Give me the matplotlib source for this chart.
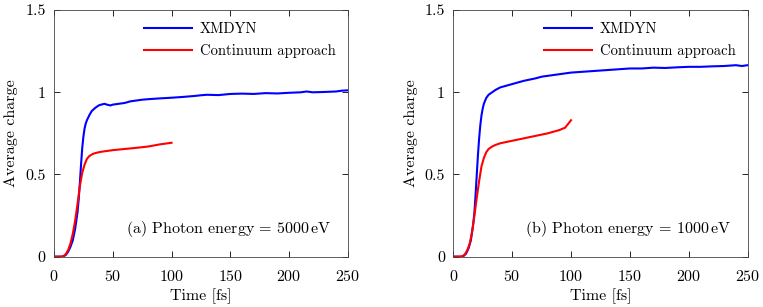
import matplotlib.pyplot as plt

plt.rcParams['font.family'] = 'cmr10'
plt.rcParams['mathtext.fontset'] = 'cm'
plt.rcParams['axes.formatter.use_mathtext'] = True

# Panel (a): 5000 eV
t_xmdyn_a = [0, 6, 8, 10, 12, 14, 16, 18, 20, 21, 22, 23, 24, 25, 26, 27, 28, 30, 32, 35, 38, 40, 43,
             45, 48, 50, 55, 60, 65, 70, 75, 80, 90, 100, 110, 120, 125, 130, 140, 150, 160,
             170, 180, 190, 200, 210, 215, 220, 230, 240, 245, 250]
q_xmdyn_a = [0, 0, 0.002, 0.01, 0.03, 0.06, 0.1, 0.17, 0.27, 0.35, 0.45, 0.56, 0.66, 0.73, 0.78, 0.81,
             0.83, 0.86, 0.885, 0.905, 0.92, 0.925, 0.93, 0.925, 0.92, 0.925, 0.93, 0.935, 0.945, 0.95,
             0.955, 0.958, 0.963, 0.967, 0.972, 0.978, 0.982, 0.985, 0.983, 0.99, 0.992, 0.99, 0.995,
             0.993, 0.997, 1.0, 1.005, 1.0, 1.002, 1.005, 1.01, 1.012]
t_cont_a = [0, 6, 8, 10, 12, 14, 16, 18, 20, 22, 24, 26, 28, 30, 33, 36, 40, 50, 60, 70, 80, 90, 100]
q_cont_a = [0, 0, 0.003, 0.015, 0.04, 0.08, 0.14, 0.22, 0.32, 0.43, 0.51, 0.56, 0.595, 0.612, 0.625,
            0.632, 0.638, 0.648, 0.655, 0.662, 0.67, 0.683, 0.693]

# Panel (b): 1000 eV
t_xmdyn_b = [0, 7, 9, 11, 13, 15, 17, 18, 19, 20, 21, 22, 23, 24, 25, 26, 28, 30, 33, 36, 40, 45,
             50, 55, 60, 70, 75, 80, 90, 100, 110, 120, 130, 140, 150, 160, 170, 180, 190, 200,
             210, 220, 230, 240, 245, 250]
q_xmdyn_b = [0, 0, 0.005, 0.02, 0.05, 0.1, 0.2, 0.27, 0.38, 0.5, 0.62, 0.72, 0.8, 0.86, 0.9, 0.93,
             0.965, 0.985, 1.0, 1.015, 1.03, 1.04, 1.05, 1.06, 1.07, 1.085, 1.095, 1.1, 1.11, 1.12, 1.125,
             1.13, 1.135, 1.14, 1.145, 1.145, 1.15, 1.148, 1.152, 1.155, 1.155, 1.158, 1.16, 1.165,
             1.16, 1.165]
t_cont_b = [0, 6, 8, 10, 12, 14, 16, 18, 20, 22, 24, 26, 28, 30, 33, 36, 40, 50, 60, 70, 80, 90, 95, 100]
q_cont_b = [0, 0, 0.003, 0.015, 0.04, 0.08, 0.15, 0.25, 0.36, 0.46, 0.55, 0.6, 0.635, 0.655, 0.67,
            0.68, 0.69, 0.705, 0.72, 0.735, 0.75, 0.77, 0.785, 0.83]

labels = ['XMDYN', 'Continuum approach']
panel_text = [r'(a) Photon energy = 5000$\,$eV', r'(b) Photon energy = 1000$\,$eV']
x_ticks = [0, 50, 100, 150, 200, 250]
y_ticks = [0, 0.5, 1, 1.5]
y_ticklabels = ['0', '0.5', '1', '1.5']

fig = plt.figure(figsize=(7.63, 3.07), dpi=100)
ax1 = fig.add_axes([0.0708, 0.164, 0.385, 0.803])
ax2 = fig.add_axes([0.594, 0.164, 0.386, 0.803])

panels = [(ax1, t_xmdyn_a, q_xmdyn_a, t_cont_a, q_cont_a, panel_text[0]),
          (ax2, t_xmdyn_b, q_xmdyn_b, t_cont_b, q_cont_b, panel_text[1])]

for ax, tx, qx, tc, qc, txt in panels:
    ax.plot(tx, qx, color='#0000ff', lw=1.5, label=labels[0])
    ax.plot(tc, qc, color='#ff0000', lw=1.5, label=labels[1])
    ax.set_xlim(0, 250)
    ax.set_ylim(0, 1.5)
    ax.set_xticks(x_ticks)
    ax.set_yticks(y_ticks)
    ax.set_yticklabels(y_ticklabels)
    ax.tick_params(direction='in', top=True, right=True, length=4, width=0.6,
                   labelsize=11.5)
    ax.tick_params(axis='x', pad=9)
    ax.tick_params(axis='y', pad=6)
    for s in ax.spines.values():
        s.set_linewidth(0.6)
        s.set_color('#444444')
    ax.set_xlabel('Time [fs]', fontsize=11.5, labelpad=3)
    ax.set_ylabel('Average charge', fontsize=11.5, labelpad=5)
    ax.legend(loc='upper right', bbox_to_anchor=(1.0, 1.0), frameon=False, fontsize=10.5,
              handlelength=3.3, handletextpad=0.5, labelspacing=0.55, borderaxespad=0.45)
    ax.text(0.946, 0.112, txt, transform=ax.transAxes, ha='right', va='center', fontsize=11.5)

fig.savefig('out.png', dpi=100)
